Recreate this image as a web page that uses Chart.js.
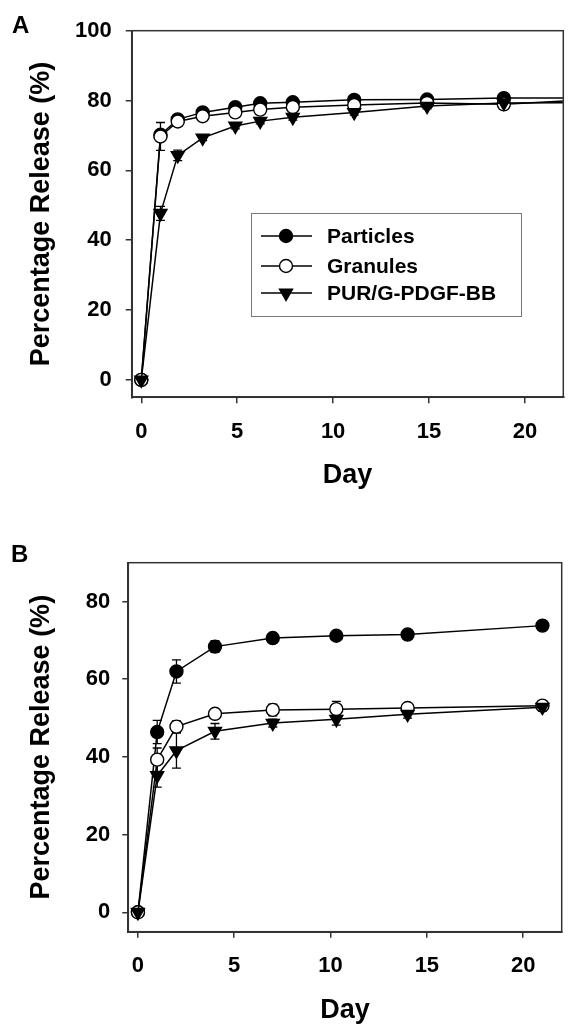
<!DOCTYPE html>
<html>
<head>
<meta charset="utf-8">
<script src="https://cdn.jsdelivr.net/npm/chart.js@4.4.1/dist/chart.umd.min.js"></script>
<style>
  body { margin: 0; background: #fff; }
  #wrap { position: relative; width: 573px; height: 1029px; }
  canvas { position: absolute; left: 0; }
  .panel { position: absolute; font: bold 24px "Liberation Sans", Arial, sans-serif; line-height: 24px; color: #000; }
</style>
</head>
<body>
<div id="wrap">
  <canvas id="chartA" width="573" height="500" style="top:0"></canvas>
  <canvas id="chartB" width="573" height="509" style="top:520px"></canvas>
  <div class="panel" style="left:12px;top:13px">A</div>
  <div class="panel" style="left:11px;top:542px">B</div>
</div>
<script>
// Panel A - release over time (last point sits past the axis end, line runs off the frame)
const daysA = [0, 1, 1.9, 3.2, 4.9, 6.2, 7.9, 11.1, 14.9, 18.9, 23];
const particlesA = [0, 70.2, 74.6, 76.6, 78.1, 79.2, 79.5, 80.2, 80.3, 80.7, 80.7];
const particlesErrA = [0, 1, 1, 0.8, 0.8, 0.8, 0.8, 0.8, 0.8, 0.8, 0];
const granulesA = [0, 69.7, 74.0, 75.5, 76.6, 77.4, 78.1, 78.7, 79.3, 78.9, 80.2];
const granulesErrA = [0, 4, 1, 0.8, 0.8, 0.8, 0.8, 0.8, 0.8, 0.8, 0];
const purA = [0, 47.7, 64.3, 69.3, 72.7, 74.1, 75.2, 76.6, 78.4, 79.3, 79.4];
const purErrA = [0, 2, 1.5, 0.8, 0.8, 0.8, 0.8, 0.8, 0.8, 0.8, 0];

// Panel B
const daysB = [0, 1, 2, 4, 7, 10.3, 14, 21];
const particlesB = [0, 46.4, 62.0, 68.4, 70.6, 71.2, 71.5, 73.8];
const particlesErrB = [0, 3, 3, 1.5, 0.8, 0.8, 0.8, 0.8];
const granulesB = [0, 39.3, 47.8, 51.1, 52.1, 52.3, 52.6, 53.2];
const granulesErrB = [0, 3, 1.5, 1, 1.5, 2, 1.2, 1];
const purB = [0, 35.2, 41.6, 46.6, 48.7, 49.7, 51.0, 52.8];
const purErrB = [0, 3, 4.5, 2, 1, 1.5, 1, 1];

const seriesLabels = ['Particles', 'Granules', 'PUR/G-PDGF-BB'];
const xTicks = [0, 5, 10, 15, 20];

const FONT = '"Liberation Sans", Arial, sans-serif';

function pts(days, vals) {
    return days.map((d, i) => ({ x: d, y: vals[i] }));
}

function makeSets(days, p, pe, g, ge, u, ue) {
    const base = {
        borderColor: '#000',
        borderWidth: 1.5,
        pointBorderColor: '#000',
        pointBorderWidth: 1.4,
        tension: 0,
        clip: 0
    };
    return [
        { label: seriesLabels[0], data: pts(days, p), errors: pe, pointStyle: 'circle', pointRadius: 6.5, pointBackgroundColor: '#000', order: 3 },
        { label: seriesLabels[1], data: pts(days, g), errors: ge, pointStyle: 'circle', pointRadius: 6.5, pointBackgroundColor: '#fff', order: 2 },
        { label: seriesLabels[2], data: pts(days, u), errors: ue, pointStyle: 'triangle', pointRotation: 180, pointRadius: 7.5, pointBackgroundColor: '#000', order: 1 }
    ].map(ds => Object.assign({}, base, ds));
}

// error bars drawn under the markers
const errorBars = {
    id: 'errorBars',
    beforeDatasetsDraw(chart) {
        const { ctx, chartArea, scales: { x, y } } = chart;
        ctx.save();
        ctx.beginPath();
        ctx.rect(chartArea.left, chartArea.top, chartArea.right - chartArea.left, chartArea.bottom - chartArea.top);
        ctx.clip();
        ctx.strokeStyle = '#000';
        ctx.lineWidth = 1.3;
        chart.data.datasets.forEach(ds => {
            (ds.errors || []).forEach((e, i) => {
                if (!e) return;
                const pt = ds.data[i];
                const px = x.getPixelForValue(pt.x);
                const yt = y.getPixelForValue(pt.y + e);
                const yb = y.getPixelForValue(pt.y - e);
                ctx.beginPath();
                ctx.moveTo(px, yt); ctx.lineTo(px, yb);
                ctx.moveTo(px - 4.5, yt); ctx.lineTo(px + 4.5, yt);
                ctx.moveTo(px - 4.5, yb); ctx.lineTo(px + 4.5, yb);
                ctx.stroke();
            });
        });
        ctx.restore();
    }
};

// full box round the plot area
const frame = {
    id: 'frame',
    afterDraw(chart) {
        const { ctx, chartArea: a } = chart;
        ctx.save();
        ctx.strokeStyle = '#333';
        ctx.lineWidth = 1.5;
        ctx.strokeRect(a.left, a.top, a.right - a.left, a.bottom - a.top);
        ctx.restore();
    }
};

// legend box inside panel A
const boxLegend = {
    id: 'boxLegend',
    afterDraw(chart) {
        const ctx = chart.ctx;
        ctx.save();
        ctx.strokeStyle = '#777';
        ctx.lineWidth = 1;
        ctx.strokeRect(251.5, 213.5, 270, 103);
        const rows = [236, 266, 293];
        chart.data.datasets.forEach((ds, i) => {
            const yy = rows[i];
            ctx.strokeStyle = '#000';
            ctx.lineWidth = 1.5;
            ctx.beginPath();
            ctx.moveTo(261, yy); ctx.lineTo(312, yy);
            ctx.stroke();
            ctx.fillStyle = ds.pointBackgroundColor;
            ctx.lineWidth = 1.4;
            Chart.helpers.drawPoint(ctx, {
                pointStyle: ds.pointStyle,
                radius: ds.pointRadius,
                rotation: ds.pointRotation || 0,
                borderWidth: 1.4
            }, 286, yy);
            ctx.fillStyle = '#000';
            ctx.font = 'bold 21px ' + FONT;
            ctx.textBaseline = 'middle';
            ctx.textAlign = 'left';
            ctx.fillText(ds.label, 327, yy + 1);
        });
        ctx.restore();
    }
};

function makeConfig(sets, o) {
    const tickFont = { family: FONT, size: 22, weight: 'bold' };
    const titleFont = { family: FONT, size: 27, weight: 'bold' };
    return {
        type: 'line',
        data: { datasets: sets },
        options: {
            responsive: false,
            animation: false,
            layout: { padding: { top: o.padTop, right: o.padRight, left: 0, bottom: 0 } },
            plugins: { legend: { display: false }, tooltip: { enabled: false } },
            scales: {
                x: {
                    type: 'linear',
                    min: -0.5,
                    max: 22,
                    afterBuildTicks: s => { s.ticks = xTicks.map(v => ({ value: v })); },
                    ticks: { color: '#000', font: tickFont, padding: 15 },
                    grid: { drawOnChartArea: false, tickLength: 6, color: '#333', lineWidth: 1.5 },
                    border: { color: '#333', width: 2 },
                    title: { display: true, text: 'Day', color: '#000', font: titleFont, padding: { top: 0, bottom: o.dayPad } },
                    afterFit: s => { s.height = o.xHeight; }
                },
                y: {
                    min: -5,
                    max: o.yMax,
                    ticks: { stepSize: 20, includeBounds: false, color: '#000', font: tickFont, padding: o.yTickPad },
                    grid: { drawOnChartArea: false, tickLength: 6, color: '#333', lineWidth: 1.5 },
                    border: { color: '#333', width: 2 },
                    title: { display: true, text: 'Percentage Release (%)', color: '#000', font: titleFont, padding: { top: 25, bottom: 0 } },
                    afterFit: s => { s.width = o.yWidth; }
                }
            }
        },
        plugins: o.plugins
    };
}

new Chart(document.getElementById('chartA'), makeConfig(
    makeSets(daysA, particlesA, particlesErrA, granulesA, granulesErrA, purA, purErrA),
    { padTop: 30.7, padRight: 9.7, yWidth: 131.7, xHeight: 102.7, yMax: 100, dayPad: 8, yTickPad: 14, plugins: [errorBars, frame, boxLegend] }
));

new Chart(document.getElementById('chartB'), makeConfig(
    makeSets(daysB, particlesB, particlesErrB, granulesB, granulesErrB, purB, purErrB),
    { padTop: 42.7, padRight: 11.3, yWidth: 128.3, xHeight: 97.3, yMax: 90, dayPad: 2, yTickPad: 12, plugins: [errorBars, frame] }
));
</script>
</body>
</html>
